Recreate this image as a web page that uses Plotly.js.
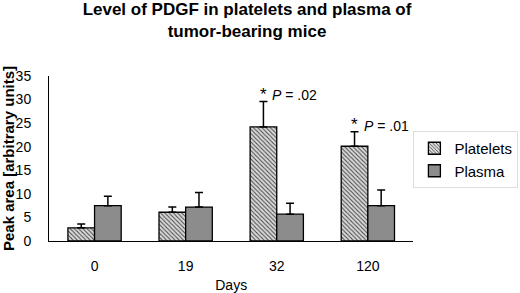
<!DOCTYPE html>
<html>
<head>
<meta charset="utf-8">
<script src="https://cdn.plot.ly/plotly-3.0.1.min.js"></script>
<style>html,body{margin:0;padding:0;background:#fff}#chart{width:520px;height:293px}</style>
</head>
<body>
<div id="chart"></div>
<script>
var days = ['0', '19', '32', '120'];
var plateletsMean = [2.8, 6.1, 24.2, 20.1];
var plateletsErr  = [0.8, 1.1, 5.4, 3.1];
var plasmaMean    = [7.5, 7.2, 5.7, 7.5];
var plasmaErr     = [2.0, 3.1, 2.3, 3.3];
var pValues       = [null, null, '.02', '.01'];
var yTicks        = [0, 5, 10, 15, 20, 25, 30, 35];

var bargap = 0.415;
var font = 'Liberation Sans, Arial, sans-serif';

var traces = [
  {
    type: 'bar', name: 'Platelets', x: days, y: plateletsMean,
    marker: {
      color: '#d0d0d0',
      pattern: {shape: '\\', fgcolor: '#444444', bgcolor: '#d9d9d9', size: 3, solidity: 0.33},
      line: {color: '#000', width: 1.3}
    },
    error_y: {type: 'data', symmetric: false, array: plateletsErr, arrayminus: plateletsErr.map(function(){return 0;}),
              color: '#000', thickness: 1.5, width: 4}
  },
  {
    type: 'bar', name: 'Plasma', x: days, y: plasmaMean,
    marker: {color: '#8c8c8c', line: {color: '#000', width: 1.3}},
    error_y: {type: 'data', symmetric: false, array: plasmaErr, arrayminus: plasmaErr.map(function(){return 0;}),
              color: '#000', thickness: 1.5, width: 4}
  }
];

var half = (1 - bargap) / 4;
var annotations = [];
pValues.forEach(function(p, i) {
  if (!p) return;
  var top = plateletsMean[i] + plateletsErr[i];
  annotations.push({
    xref: 'x', yref: 'y', x: i - half, y: top, text: '*', showarrow: false,
    xanchor: 'center', yanchor: 'middle', yshift: 7,
    font: {family: font, size: 17, color: '#000'}
  });
  annotations.push({
    xref: 'x', yref: 'y', x: i - half, y: top, text: '<i>P</i> = ' + p, showarrow: false,
    xanchor: 'left', yanchor: 'middle', xshift: 7, yshift: 6,
    font: {family: font, size: 14, color: '#000'}
  });
});

var layout = {
  width: 520, height: 293,
  margin: {l: 49, r: 95, t: 76, b: 52},
  paper_bgcolor: '#fff', plot_bgcolor: '#fff',
  font: {family: font, size: 14, color: '#000'},
  title: {
    text: '<b>Level of PDGF in platelets and plasma of<br>tumor-bearing mice</b>',
    font: {family: font, size: 17, color: '#000'},
    x: 0.475, xanchor: 'center', xref: 'container',
    y: 0.95, yanchor: 'top', yref: 'container'
  },
  barmode: 'group', bargap: bargap, bargroupgap: 0,
  showlegend: true,
  legend: {
    xref: 'container', yref: 'container',
    x: 0.795, xanchor: 'left', y: 1 - 131 / 293, yanchor: 'top',
    bordercolor: '#dddddd', borderwidth: 1, bgcolor: '#fff',
    font: {family: font, size: 15, color: '#000'},
    itemwidth: 30, tracegroupgap: 7
  },
  xaxis: {
    type: 'category', showline: true, linecolor: '#000', linewidth: 1,
    ticks: '', showgrid: false, zeroline: false,
    tickfont: {family: font, size: 14}, ticklabelstandoff: 12,
    title: {text: 'Days', font: {family: font, size: 14}, standoff: 8}
  },
  yaxis: {
    range: [0, 35], tickvals: yTicks, ticktext: yTicks.map(String),
    showline: true, linecolor: '#000', linewidth: 1,
    ticks: 'outside', ticklen: 14, tickcolor: 'rgba(0,0,0,0)', showgrid: false, zeroline: false,
    tickfont: {family: font, size: 14},
    title: {text: '<b>Peak area [arbitrary units]</b>', font: {family: font, size: 15}, standoff: 5}
  },
  annotations: annotations
};

Plotly.newPlot('chart', traces, layout, {staticPlot: true, displayModeBar: false});
</script>
</body>
</html>
